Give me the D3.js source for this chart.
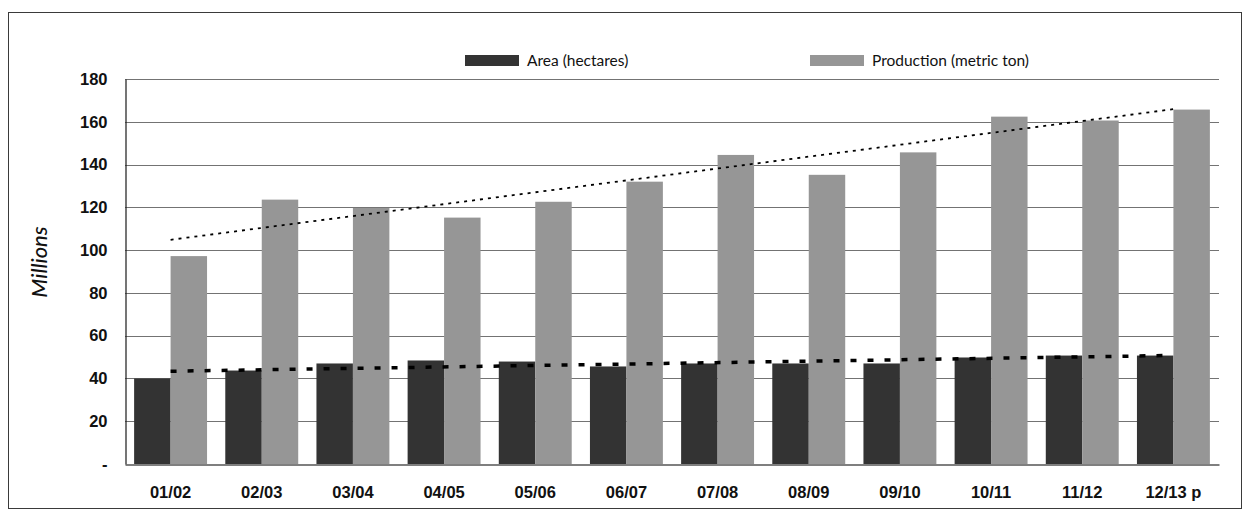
<!DOCTYPE html>
<html>
<head>
<meta charset="utf-8">
<script src="https://cdn.jsdelivr.net/npm/d3@7"></script>
<style>
  html, body { margin: 0; padding: 0; background: #fff; }
  svg { display: block; font-family: Lato, "Open Sans", sans-serif; }
</style>
</head>
<body>
<svg id="chart" width="1250" height="519"></svg>
<script>
// Crop seasons
const categories = ["01/02", "02/03", "03/04", "04/05", "05/06", "06/07",
                    "07/08", "08/09", "09/10", "10/11", "11/12", "12/13 p"];
// Harvested area, millions of hectares
const areaValues = [40, 43.7, 47, 48.4, 47.9, 45.6, 47, 47, 47, 49.8, 50.7, 50.7];
// Production, millions of metric tons
const productionValues = [97.2, 123.6, 119.7, 115.2, 122.6, 132, 144.5, 135.2, 145.7, 162.4, 160.6, 165.7];
// Series names shown in the legend
const seriesNames = ["Area (hectares)", "Production (metric ton)"];
// Y axis ticks
const yTicks = [0, 20, 40, 60, 80, 100, 120, 140, 160, 180];

const svg = d3.select("#chart");
const plot = { left: 125, right: 1219, top: 79, bottom: 464 };
const colors = ["#333333", "#969696"];

// Outer frame
svg.append("rect")
  .attr("x", 8.5).attr("y", 12.5)
  .attr("width", 1233).attr("height", 496)
  .attr("fill", "#fff").attr("stroke", "#3a3a3a").attr("stroke-width", 1);

const x = d3.scaleBand()
  .domain(categories)
  .range([plot.left, plot.right])
  .paddingInner(0.2)
  .paddingOuter(0.1);

const xSub = d3.scaleBand()
  .domain([0, 1])
  .range([0, x.bandwidth()]);

const y = d3.scaleLinear()
  .domain([0, 180])
  .range([plot.bottom, plot.top]);

// Horizontal gridlines
svg.append("g")
  .selectAll("line")
  .data(yTicks.filter(d => d > 0))
  .join("line")
  .attr("x1", plot.left).attr("x2", plot.right)
  .attr("y1", d => Math.round(y(d)) + 0.5)
  .attr("y2", d => Math.round(y(d)) + 0.5)
  .attr("stroke", "#737373")
  .attr("stroke-width", 1.2);

// Y axis with accounting-style zero
const yAxis = d3.axisLeft(y)
  .tickValues(yTicks)
  .tickSize(0)
  .tickPadding(18)
  .tickFormat(d => d === 0 ? "-" : d3.format("d")(d));

const gy = svg.append("g")
  .attr("transform", `translate(${plot.left + 0.5},0)`)
  .call(yAxis);
gy.select(".domain").attr("stroke", "#1a1a1a").attr("stroke-width", 1.2);
gy.selectAll("text")
  .attr("fill", "#111")
  .style("font-size", "16.5px")
  .style("font-weight", "bold");

// Bars
const groups = svg.append("g")
  .selectAll("g")
  .data(categories.map((c, i) => ({ c, vals: [areaValues[i], productionValues[i]] })))
  .join("g")
  .attr("transform", d => `translate(${x(d.c)},0)`);

groups.selectAll("rect")
  .data(d => d.vals.map((v, k) => ({ v, k })))
  .join("rect")
  .attr("x", d => xSub(d.k))
  .attr("width", xSub.bandwidth())
  .attr("y", d => y(d.v))
  .attr("height", d => y(0) - y(d.v))
  .attr("fill", d => colors[d.k]);

// X axis
const xAxis = d3.axisBottom(x).tickSize(0).tickPadding(22);
const gx = svg.append("g")
  .attr("transform", `translate(0,${plot.bottom + 0.5})`)
  .call(xAxis);
gx.select(".domain").attr("stroke", "#555").attr("stroke-width", 1.5);
gx.selectAll("text")
  .attr("fill", "#111")
  .style("font-size", "16.5px")
  .style("font-weight", "bold");

// Linear least-squares trend for a series, one point per category
function trend(values) {
  const xs = values.map((_, i) => i + 1);
  const mx = d3.mean(xs), my = d3.mean(values);
  const sxy = d3.sum(xs, (xi, i) => (xi - mx) * (values[i] - my));
  const sxx = d3.sum(xs, xi => (xi - mx) * (xi - mx));
  const b = sxy / sxx, a = my - b * mx;
  return xs.map(xi => ({ c: categories[xi - 1], v: a + b * xi }));
}

const line = d3.line()
  .x(d => x(d.c) + x.bandwidth() / 2)
  .y(d => y(d.v));

const prodTrend = trend(productionValues);
svg.append("path")
  .attr("d", line([prodTrend[0], prodTrend[prodTrend.length - 1]]))
  .attr("fill", "none")
  .attr("stroke", "#000")
  .attr("stroke-width", 1.8)
  .attr("stroke-dasharray", "3,5");

const areaTrend = trend(areaValues);
svg.append("path")
  .attr("d", line([areaTrend[0], areaTrend[areaTrend.length - 1]]))
  .attr("fill", "none")
  .attr("stroke", "#000")
  .attr("stroke-width", 3.5)
  .attr("stroke-dasharray", "6,11");

// Legend
const legendItems = [
  { name: seriesNames[0], color: colors[0], x: 465 },
  { name: seriesNames[1], color: colors[1], x: 810 }
];
const lg = svg.append("g");
legendItems.forEach(item => {
  lg.append("rect")
    .attr("x", item.x).attr("y", 55)
    .attr("width", 54).attr("height", 11)
    .attr("fill", item.color);
  lg.append("text")
    .attr("x", item.x + 62).attr("y", 66)
    .attr("fill", "#111")
    .style("font-size", "15.5px")
    .text(item.name);
});

// Y axis title
svg.append("text")
  .attr("transform", "translate(47,262) rotate(-90)")
  .attr("text-anchor", "middle")
  .attr("fill", "#111")
  .style("font-size", "22px")
  .style("font-style", "italic")
  .style("font-weight", "500")
  .text("Millions");
</script>
</body>
</html>
